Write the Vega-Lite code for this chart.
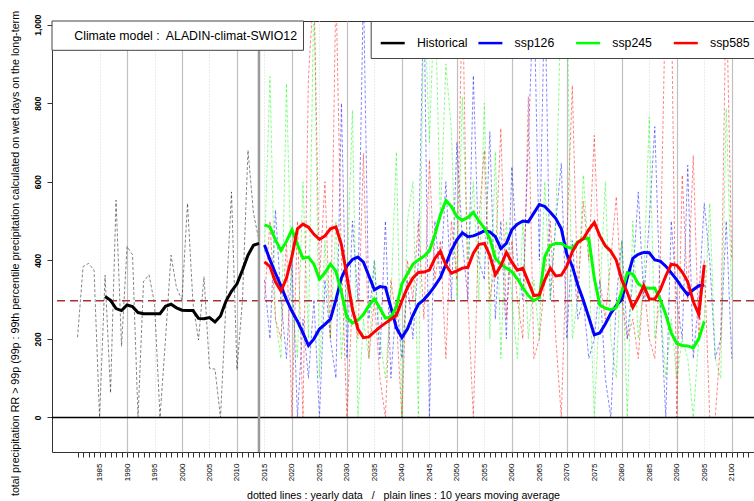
{
"$schema": "https://vega.github.io/schema/vega-lite/v6.json",
"width": 702, "height": 431,
"autosize": "none",
"padding": {"left": 52, "top": 21, "right": 0, "bottom": 49},
"background": "white",
"config": {"font": "Liberation Sans", "view": {"stroke": "#333", "strokeWidth": 1}},
"datasets": {
"yearly": [
{"year":1981,"value":204,"series":"Historical"},{"year":1982,"value":384,"series":"Historical"},{"year":1983,"value":392,"series":"Historical"},{"year":1984,"value":375,"series":"Historical"},{"year":1985,"value":0,"series":"Historical"},{"year":1986,"value":362,"series":"Historical"},{"year":1987,"value":62,"series":"Historical"},{"year":1988,"value":553,"series":"Historical"},{"year":1989,"value":181,"series":"Historical"},{"year":1990,"value":435,"series":"Historical"},{"year":1991,"value":414,"series":"Historical"},{"year":1992,"value":0,"series":"Historical"},{"year":1993,"value":346,"series":"Historical"},{"year":1994,"value":363,"series":"Historical"},{"year":1995,"value":290,"series":"Historical"},{"year":1996,"value":0,"series":"Historical"},{"year":1997,"value":200,"series":"Historical"},{"year":1998,"value":413,"series":"Historical"},{"year":1999,"value":330,"series":"Historical"},{"year":2000,"value":299,"series":"Historical"},{"year":2001,"value":545,"series":"Historical"},{"year":2002,"value":290,"series":"Historical"},{"year":2003,"value":197,"series":"Historical"},{"year":2004,"value":358,"series":"Historical"},{"year":2005,"value":125,"series":"Historical"},{"year":2006,"value":123,"series":"Historical"},{"year":2007,"value":0,"series":"Historical"},{"year":2008,"value":290,"series":"Historical"},{"year":2009,"value":574,"series":"Historical"},{"year":2010,"value":121,"series":"Historical"},{"year":2011,"value":300,"series":"Historical"},{"year":2012,"value":680,"series":"Historical"},{"year":2013,"value":520,"series":"Historical"},{"year":2014,"value":450,"series":"Historical"},
{"year":2015,"value":350,"series":"ssp126"},{"year":2016,"value":200,"series":"ssp126"},{"year":2017,"value":528,"series":"ssp126"},{"year":2018,"value":300,"series":"ssp126"},{"year":2019,"value":150,"series":"ssp126"},{"year":2020,"value":400,"series":"ssp126"},{"year":2021,"value":0,"series":"ssp126"},{"year":2022,"value":250,"series":"ssp126"},{"year":2023,"value":100,"series":"ssp126"},{"year":2024,"value":300,"series":"ssp126"},{"year":2025,"value":0,"series":"ssp126"},{"year":2026,"value":350,"series":"ssp126"},{"year":2027,"value":200,"series":"ssp126"},{"year":2028,"value":100,"series":"ssp126"},{"year":2029,"value":800,"series":"ssp126"},{"year":2030,"value":150,"series":"ssp126"},{"year":2031,"value":500,"series":"ssp126"},{"year":2032,"value":300,"series":"ssp126"},{"year":2033,"value":1100,"series":"ssp126"},{"year":2034,"value":250,"series":"ssp126"},{"year":2035,"value":400,"series":"ssp126"},{"year":2036,"value":150,"series":"ssp126"},{"year":2037,"value":500,"series":"ssp126"},{"year":2038,"value":100,"series":"ssp126"},{"year":2039,"value":300,"series":"ssp126"},{"year":2040,"value":150,"series":"ssp126"},{"year":2041,"value":350,"series":"ssp126"},{"year":2042,"value":200,"series":"ssp126"},{"year":2043,"value":400,"series":"ssp126"},{"year":2044,"value":1100,"series":"ssp126"},{"year":2045,"value":0,"series":"ssp126"},{"year":2046,"value":500,"series":"ssp126"},{"year":2047,"value":350,"series":"ssp126"},{"year":2048,"value":600,"series":"ssp126"},{"year":2049,"value":300,"series":"ssp126"},{"year":2050,"value":700,"series":"ssp126"},{"year":2051,"value":450,"series":"ssp126"},{"year":2052,"value":300,"series":"ssp126"},{"year":2053,"value":870,"series":"ssp126"},{"year":2054,"value":400,"series":"ssp126"},{"year":2055,"value":350,"series":"ssp126"},{"year":2056,"value":727,"series":"ssp126"},{"year":2057,"value":250,"series":"ssp126"},{"year":2058,"value":500,"series":"ssp126"},{"year":2059,"value":200,"series":"ssp126"},{"year":2060,"value":638,"series":"ssp126"},{"year":2061,"value":400,"series":"ssp126"},{"year":2062,"value":300,"series":"ssp126"},{"year":2063,"value":700,"series":"ssp126"},{"year":2064,"value":1100,"series":"ssp126"},{"year":2065,"value":400,"series":"ssp126"},{"year":2066,"value":1100,"series":"ssp126"},{"year":2067,"value":300,"series":"ssp126"},{"year":2068,"value":500,"series":"ssp126"},{"year":2069,"value":647,"series":"ssp126"},{"year":2070,"value":200,"series":"ssp126"},{"year":2071,"value":450,"series":"ssp126"},{"year":2072,"value":250,"series":"ssp126"},{"year":2073,"value":300,"series":"ssp126"},{"year":2074,"value":150,"series":"ssp126"},{"year":2075,"value":200,"series":"ssp126"},{"year":2076,"value":350,"series":"ssp126"},{"year":2077,"value":100,"series":"ssp126"},{"year":2078,"value":0,"series":"ssp126"},{"year":2079,"value":300,"series":"ssp126"},{"year":2080,"value":450,"series":"ssp126"},{"year":2081,"value":200,"series":"ssp126"},{"year":2082,"value":350,"series":"ssp126"},{"year":2083,"value":574,"series":"ssp126"},{"year":2084,"value":300,"series":"ssp126"},{"year":2085,"value":500,"series":"ssp126"},{"year":2086,"value":740,"series":"ssp126"},{"year":2087,"value":300,"series":"ssp126"},{"year":2088,"value":0,"series":"ssp126"},{"year":2089,"value":500,"series":"ssp126"},{"year":2090,"value":300,"series":"ssp126"},{"year":2091,"value":200,"series":"ssp126"},{"year":2092,"value":642,"series":"ssp126"},{"year":2093,"value":150,"series":"ssp126"},{"year":2094,"value":300,"series":"ssp126"},{"year":2095,"value":545,"series":"ssp126"},{"year":2096,"value":400,"series":"ssp126"},{"year":2097,"value":150,"series":"ssp126"},{"year":2098,"value":200,"series":"ssp126"},{"year":2099,"value":500,"series":"ssp126"},{"year":2100,"value":150,"series":"ssp126"},
{"year":2015,"value":420,"series":"ssp245"},{"year":2016,"value":868,"series":"ssp245"},{"year":2017,"value":250,"series":"ssp245"},{"year":2018,"value":150,"series":"ssp245"},{"year":2019,"value":850,"series":"ssp245"},{"year":2020,"value":300,"series":"ssp245"},{"year":2021,"value":150,"series":"ssp245"},{"year":2022,"value":600,"series":"ssp245"},{"year":2023,"value":200,"series":"ssp245"},{"year":2024,"value":1100,"series":"ssp245"},{"year":2025,"value":100,"series":"ssp245"},{"year":2026,"value":450,"series":"ssp245"},{"year":2027,"value":200,"series":"ssp245"},{"year":2028,"value":500,"series":"ssp245"},{"year":2029,"value":150,"series":"ssp245"},{"year":2030,"value":350,"series":"ssp245"},{"year":2031,"value":782,"series":"ssp245"},{"year":2032,"value":0,"series":"ssp245"},{"year":2033,"value":250,"series":"ssp245"},{"year":2034,"value":150,"series":"ssp245"},{"year":2035,"value":400,"series":"ssp245"},{"year":2036,"value":200,"series":"ssp245"},{"year":2037,"value":100,"series":"ssp245"},{"year":2038,"value":300,"series":"ssp245"},{"year":2039,"value":676,"series":"ssp245"},{"year":2040,"value":0,"series":"ssp245"},{"year":2041,"value":500,"series":"ssp245"},{"year":2042,"value":600,"series":"ssp245"},{"year":2043,"value":0,"series":"ssp245"},{"year":2044,"value":1100,"series":"ssp245"},{"year":2045,"value":700,"series":"ssp245"},{"year":2046,"value":1100,"series":"ssp245"},{"year":2047,"value":500,"series":"ssp245"},{"year":2048,"value":900,"series":"ssp245"},{"year":2049,"value":731,"series":"ssp245"},{"year":2050,"value":300,"series":"ssp245"},{"year":2051,"value":816,"series":"ssp245"},{"year":2052,"value":400,"series":"ssp245"},{"year":2053,"value":600,"series":"ssp245"},{"year":2054,"value":300,"series":"ssp245"},{"year":2055,"value":800,"series":"ssp245"},{"year":2056,"value":200,"series":"ssp245"},{"year":2057,"value":676,"series":"ssp245"},{"year":2058,"value":150,"series":"ssp245"},{"year":2059,"value":500,"series":"ssp245"},{"year":2060,"value":300,"series":"ssp245"},{"year":2061,"value":150,"series":"ssp245"},{"year":2062,"value":500,"series":"ssp245"},{"year":2063,"value":200,"series":"ssp245"},{"year":2064,"value":350,"series":"ssp245"},{"year":2065,"value":200,"series":"ssp245"},{"year":2066,"value":600,"series":"ssp245"},{"year":2067,"value":300,"series":"ssp245"},{"year":2068,"value":500,"series":"ssp245"},{"year":2069,"value":1100,"series":"ssp245"},{"year":2070,"value":1100,"series":"ssp245"},{"year":2071,"value":200,"series":"ssp245"},{"year":2072,"value":300,"series":"ssp245"},{"year":2073,"value":617,"series":"ssp245"},{"year":2074,"value":400,"series":"ssp245"},{"year":2075,"value":0,"series":"ssp245"},{"year":2076,"value":300,"series":"ssp245"},{"year":2077,"value":600,"series":"ssp245"},{"year":2078,"value":200,"series":"ssp245"},{"year":2079,"value":100,"series":"ssp245"},{"year":2080,"value":450,"series":"ssp245"},{"year":2081,"value":0,"series":"ssp245"},{"year":2082,"value":500,"series":"ssp245"},{"year":2083,"value":200,"series":"ssp245"},{"year":2084,"value":350,"series":"ssp245"},{"year":2085,"value":765,"series":"ssp245"},{"year":2086,"value":200,"series":"ssp245"},{"year":2087,"value":300,"series":"ssp245"},{"year":2088,"value":100,"series":"ssp245"},{"year":2089,"value":250,"series":"ssp245"},{"year":2090,"value":100,"series":"ssp245"},{"year":2091,"value":200,"series":"ssp245"},{"year":2092,"value":150,"series":"ssp245"},{"year":2093,"value":0,"series":"ssp245"},{"year":2094,"value":200,"series":"ssp245"},{"year":2095,"value":250,"series":"ssp245"},{"year":2096,"value":545,"series":"ssp245"},{"year":2097,"value":150,"series":"ssp245"},{"year":2098,"value":100,"series":"ssp245"},{"year":2099,"value":786,"series":"ssp245"},{"year":2100,"value":300,"series":"ssp245"},
{"year":2015,"value":300,"series":"ssp585"},{"year":2016,"value":500,"series":"ssp585"},{"year":2017,"value":250,"series":"ssp585"},{"year":2018,"value":200,"series":"ssp585"},{"year":2019,"value":450,"series":"ssp585"},{"year":2020,"value":0,"series":"ssp585"},{"year":2021,"value":500,"series":"ssp585"},{"year":2022,"value":0,"series":"ssp585"},{"year":2023,"value":866,"series":"ssp585"},{"year":2024,"value":1100,"series":"ssp585"},{"year":2025,"value":350,"series":"ssp585"},{"year":2026,"value":600,"series":"ssp585"},{"year":2027,"value":200,"series":"ssp585"},{"year":2028,"value":1100,"series":"ssp585"},{"year":2029,"value":400,"series":"ssp585"},{"year":2030,"value":0,"series":"ssp585"},{"year":2031,"value":300,"series":"ssp585"},{"year":2032,"value":200,"series":"ssp585"},{"year":2033,"value":672,"series":"ssp585"},{"year":2034,"value":150,"series":"ssp585"},{"year":2035,"value":300,"series":"ssp585"},{"year":2036,"value":100,"series":"ssp585"},{"year":2037,"value":0,"series":"ssp585"},{"year":2038,"value":350,"series":"ssp585"},{"year":2039,"value":250,"series":"ssp585"},{"year":2040,"value":0,"series":"ssp585"},{"year":2041,"value":400,"series":"ssp585"},{"year":2042,"value":300,"series":"ssp585"},{"year":2043,"value":500,"series":"ssp585"},{"year":2044,"value":250,"series":"ssp585"},{"year":2045,"value":655,"series":"ssp585"},{"year":2046,"value":350,"series":"ssp585"},{"year":2047,"value":450,"series":"ssp585"},{"year":2048,"value":150,"series":"ssp585"},{"year":2049,"value":500,"series":"ssp585"},{"year":2050,"value":350,"series":"ssp585"},{"year":2051,"value":1100,"series":"ssp585"},{"year":2052,"value":300,"series":"ssp585"},{"year":2053,"value":0,"series":"ssp585"},{"year":2054,"value":500,"series":"ssp585"},{"year":2055,"value":680,"series":"ssp585"},{"year":2056,"value":300,"series":"ssp585"},{"year":2057,"value":400,"series":"ssp585"},{"year":2058,"value":736,"series":"ssp585"},{"year":2059,"value":250,"series":"ssp585"},{"year":2060,"value":450,"series":"ssp585"},{"year":2061,"value":300,"series":"ssp585"},{"year":2062,"value":200,"series":"ssp585"},{"year":2063,"value":816,"series":"ssp585"},{"year":2064,"value":150,"series":"ssp585"},{"year":2065,"value":200,"series":"ssp585"},{"year":2066,"value":350,"series":"ssp585"},{"year":2067,"value":500,"series":"ssp585"},{"year":2068,"value":200,"series":"ssp585"},{"year":2069,"value":0,"series":"ssp585"},{"year":2070,"value":450,"series":"ssp585"},{"year":2071,"value":845,"series":"ssp585"},{"year":2072,"value":300,"series":"ssp585"},{"year":2073,"value":550,"series":"ssp585"},{"year":2074,"value":400,"series":"ssp585"},{"year":2075,"value":718,"series":"ssp585"},{"year":2076,"value":350,"series":"ssp585"},{"year":2077,"value":250,"series":"ssp585"},{"year":2078,"value":400,"series":"ssp585"},{"year":2079,"value":562,"series":"ssp585"},{"year":2080,"value":300,"series":"ssp585"},{"year":2081,"value":200,"series":"ssp585"},{"year":2082,"value":250,"series":"ssp585"},{"year":2083,"value":150,"series":"ssp585"},{"year":2084,"value":350,"series":"ssp585"},{"year":2085,"value":200,"series":"ssp585"},{"year":2086,"value":150,"series":"ssp585"},{"year":2087,"value":400,"series":"ssp585"},{"year":2088,"value":1100,"series":"ssp585"},{"year":2089,"value":1100,"series":"ssp585"},{"year":2090,"value":0,"series":"ssp585"},{"year":2091,"value":617,"series":"ssp585"},{"year":2092,"value":300,"series":"ssp585"},{"year":2093,"value":667,"series":"ssp585"},{"year":2094,"value":200,"series":"ssp585"},{"year":2095,"value":400,"series":"ssp585"},{"year":2096,"value":0,"series":"ssp585"},{"year":2097,"value":0,"series":"ssp585"},{"year":2098,"value":200,"series":"ssp585"},{"year":2099,"value":1100,"series":"ssp585"},{"year":2100,"value":400,"series":"ssp585"}
],
"ma": [
{"year":1986,"value":308,"series":"Historical"},{"year":1987,"value":298,"series":"Historical"},{"year":1988,"value":277,"series":"Historical"},{"year":1989,"value":272,"series":"Historical"},{"year":1990,"value":286,"series":"Historical"},{"year":1991,"value":282,"series":"Historical"},{"year":1992,"value":267,"series":"Historical"},{"year":1993,"value":264,"series":"Historical"},{"year":1994,"value":264,"series":"Historical"},{"year":1995,"value":264,"series":"Historical"},{"year":1996,"value":264,"series":"Historical"},{"year":1997,"value":283,"series":"Historical"},{"year":1998,"value":288,"series":"Historical"},{"year":1999,"value":279,"series":"Historical"},{"year":2000,"value":273,"series":"Historical"},{"year":2001,"value":272,"series":"Historical"},{"year":2002,"value":272,"series":"Historical"},{"year":2003,"value":252,"series":"Historical"},{"year":2004,"value":251,"series":"Historical"},{"year":2005,"value":254,"series":"Historical"},{"year":2006,"value":243,"series":"Historical"},{"year":2007,"value":258,"series":"Historical"},{"year":2008,"value":296,"series":"Historical"},{"year":2009,"value":321,"series":"Historical"},{"year":2010,"value":340,"series":"Historical"},{"year":2011,"value":375,"series":"Historical"},{"year":2012,"value":413,"series":"Historical"},{"year":2013,"value":438,"series":"Historical"},{"year":2014,"value":443,"series":"Historical"},
{"year":2015,"value":439,"series":"ssp126"},{"year":2016,"value":401,"series":"ssp126"},{"year":2017,"value":367,"series":"ssp126"},{"year":2018,"value":335,"series":"ssp126"},{"year":2019,"value":300,"series":"ssp126"},{"year":2020,"value":270,"series":"ssp126"},{"year":2021,"value":245,"series":"ssp126"},{"year":2022,"value":215,"series":"ssp126"},{"year":2023,"value":183,"series":"ssp126"},{"year":2024,"value":200,"series":"ssp126"},{"year":2025,"value":225,"series":"ssp126"},{"year":2026,"value":237,"series":"ssp126"},{"year":2027,"value":250,"series":"ssp126"},{"year":2028,"value":300,"series":"ssp126"},{"year":2029,"value":355,"series":"ssp126"},{"year":2030,"value":385,"series":"ssp126"},{"year":2031,"value":402,"series":"ssp126"},{"year":2032,"value":408,"series":"ssp126"},{"year":2033,"value":395,"series":"ssp126"},{"year":2034,"value":360,"series":"ssp126"},{"year":2035,"value":325,"series":"ssp126"},{"year":2036,"value":333,"series":"ssp126"},{"year":2037,"value":331,"series":"ssp126"},{"year":2038,"value":280,"series":"ssp126"},{"year":2039,"value":228,"series":"ssp126"},{"year":2040,"value":203,"series":"ssp126"},{"year":2041,"value":225,"series":"ssp126"},{"year":2042,"value":260,"series":"ssp126"},{"year":2043,"value":288,"series":"ssp126"},{"year":2044,"value":300,"series":"ssp126"},{"year":2045,"value":316,"series":"ssp126"},{"year":2046,"value":335,"series":"ssp126"},{"year":2047,"value":356,"series":"ssp126"},{"year":2048,"value":390,"series":"ssp126"},{"year":2049,"value":425,"series":"ssp126"},{"year":2050,"value":452,"series":"ssp126"},{"year":2051,"value":470,"series":"ssp126"},{"year":2052,"value":460,"series":"ssp126"},{"year":2053,"value":462,"series":"ssp126"},{"year":2054,"value":468,"series":"ssp126"},{"year":2055,"value":475,"series":"ssp126"},{"year":2056,"value":472,"series":"ssp126"},{"year":2057,"value":460,"series":"ssp126"},{"year":2058,"value":430,"series":"ssp126"},{"year":2059,"value":443,"series":"ssp126"},{"year":2060,"value":478,"series":"ssp126"},{"year":2061,"value":492,"series":"ssp126"},{"year":2062,"value":500,"series":"ssp126"},{"year":2063,"value":498,"series":"ssp126"},{"year":2064,"value":520,"series":"ssp126"},{"year":2065,"value":542,"series":"ssp126"},{"year":2066,"value":537,"series":"ssp126"},{"year":2067,"value":522,"series":"ssp126"},{"year":2068,"value":506,"series":"ssp126"},{"year":2069,"value":480,"series":"ssp126"},{"year":2070,"value":415,"series":"ssp126"},{"year":2071,"value":385,"series":"ssp126"},{"year":2072,"value":337,"series":"ssp126"},{"year":2073,"value":298,"series":"ssp126"},{"year":2074,"value":255,"series":"ssp126"},{"year":2075,"value":210,"series":"ssp126"},{"year":2076,"value":215,"series":"ssp126"},{"year":2077,"value":238,"series":"ssp126"},{"year":2078,"value":265,"series":"ssp126"},{"year":2079,"value":285,"series":"ssp126"},{"year":2080,"value":300,"series":"ssp126"},{"year":2081,"value":355,"series":"ssp126"},{"year":2082,"value":405,"series":"ssp126"},{"year":2083,"value":415,"series":"ssp126"},{"year":2084,"value":420,"series":"ssp126"},{"year":2085,"value":419,"series":"ssp126"},{"year":2086,"value":401,"series":"ssp126"},{"year":2087,"value":398,"series":"ssp126"},{"year":2088,"value":385,"series":"ssp126"},{"year":2089,"value":368,"series":"ssp126"},{"year":2090,"value":350,"series":"ssp126"},{"year":2091,"value":330,"series":"ssp126"},{"year":2092,"value":312,"series":"ssp126"},{"year":2093,"value":325,"series":"ssp126"},{"year":2094,"value":335,"series":"ssp126"},{"year":2095,"value":337,"series":"ssp126"},
{"year":2015,"value":490,"series":"ssp245"},{"year":2016,"value":485,"series":"ssp245"},{"year":2017,"value":452,"series":"ssp245"},{"year":2018,"value":425,"series":"ssp245"},{"year":2019,"value":448,"series":"ssp245"},{"year":2020,"value":478,"series":"ssp245"},{"year":2021,"value":440,"series":"ssp245"},{"year":2022,"value":405,"series":"ssp245"},{"year":2023,"value":408,"series":"ssp245"},{"year":2024,"value":390,"series":"ssp245"},{"year":2025,"value":352,"series":"ssp245"},{"year":2026,"value":368,"series":"ssp245"},{"year":2027,"value":390,"series":"ssp245"},{"year":2028,"value":372,"series":"ssp245"},{"year":2029,"value":318,"series":"ssp245"},{"year":2030,"value":255,"series":"ssp245"},{"year":2031,"value":240,"series":"ssp245"},{"year":2032,"value":248,"series":"ssp245"},{"year":2033,"value":262,"series":"ssp245"},{"year":2034,"value":285,"series":"ssp245"},{"year":2035,"value":302,"series":"ssp245"},{"year":2036,"value":278,"series":"ssp245"},{"year":2037,"value":253,"series":"ssp245"},{"year":2038,"value":255,"series":"ssp245"},{"year":2039,"value":282,"series":"ssp245"},{"year":2040,"value":340,"series":"ssp245"},{"year":2041,"value":365,"series":"ssp245"},{"year":2042,"value":390,"series":"ssp245"},{"year":2043,"value":401,"series":"ssp245"},{"year":2044,"value":410,"series":"ssp245"},{"year":2045,"value":424,"series":"ssp245"},{"year":2046,"value":465,"series":"ssp245"},{"year":2047,"value":515,"series":"ssp245"},{"year":2048,"value":552,"series":"ssp245"},{"year":2049,"value":537,"series":"ssp245"},{"year":2050,"value":511,"series":"ssp245"},{"year":2051,"value":502,"series":"ssp245"},{"year":2052,"value":509,"series":"ssp245"},{"year":2053,"value":522,"series":"ssp245"},{"year":2054,"value":500,"series":"ssp245"},{"year":2055,"value":482,"series":"ssp245"},{"year":2056,"value":455,"series":"ssp245"},{"year":2057,"value":405,"series":"ssp245"},{"year":2058,"value":390,"series":"ssp245"},{"year":2059,"value":380,"series":"ssp245"},{"year":2060,"value":371,"series":"ssp245"},{"year":2061,"value":353,"series":"ssp245"},{"year":2062,"value":330,"series":"ssp245"},{"year":2063,"value":310,"series":"ssp245"},{"year":2064,"value":297,"series":"ssp245"},{"year":2065,"value":305,"series":"ssp245"},{"year":2066,"value":410,"series":"ssp245"},{"year":2067,"value":438,"series":"ssp245"},{"year":2068,"value":443,"series":"ssp245"},{"year":2069,"value":443,"series":"ssp245"},{"year":2070,"value":434,"series":"ssp245"},{"year":2071,"value":430,"series":"ssp245"},{"year":2072,"value":447,"series":"ssp245"},{"year":2073,"value":455,"series":"ssp245"},{"year":2074,"value":456,"series":"ssp245"},{"year":2075,"value":354,"series":"ssp245"},{"year":2076,"value":286,"series":"ssp245"},{"year":2077,"value":278,"series":"ssp245"},{"year":2078,"value":274,"series":"ssp245"},{"year":2079,"value":280,"series":"ssp245"},{"year":2080,"value":320,"series":"ssp245"},{"year":2081,"value":368,"series":"ssp245"},{"year":2082,"value":365,"series":"ssp245"},{"year":2083,"value":340,"series":"ssp245"},{"year":2084,"value":330,"series":"ssp245"},{"year":2085,"value":329,"series":"ssp245"},{"year":2086,"value":329,"series":"ssp245"},{"year":2087,"value":300,"series":"ssp245"},{"year":2088,"value":262,"series":"ssp245"},{"year":2089,"value":215,"series":"ssp245"},{"year":2090,"value":188,"series":"ssp245"},{"year":2091,"value":183,"series":"ssp245"},{"year":2092,"value":182,"series":"ssp245"},{"year":2093,"value":177,"series":"ssp245"},{"year":2094,"value":200,"series":"ssp245"},{"year":2095,"value":244,"series":"ssp245"},
{"year":2015,"value":396,"series":"ssp585"},{"year":2016,"value":384,"series":"ssp585"},{"year":2017,"value":345,"series":"ssp585"},{"year":2018,"value":322,"series":"ssp585"},{"year":2019,"value":354,"series":"ssp585"},{"year":2020,"value":410,"series":"ssp585"},{"year":2021,"value":480,"series":"ssp585"},{"year":2022,"value":492,"series":"ssp585"},{"year":2023,"value":484,"series":"ssp585"},{"year":2024,"value":466,"series":"ssp585"},{"year":2025,"value":453,"series":"ssp585"},{"year":2026,"value":462,"series":"ssp585"},{"year":2027,"value":480,"series":"ssp585"},{"year":2028,"value":485,"series":"ssp585"},{"year":2029,"value":440,"series":"ssp585"},{"year":2030,"value":359,"series":"ssp585"},{"year":2031,"value":275,"series":"ssp585"},{"year":2032,"value":225,"series":"ssp585"},{"year":2033,"value":203,"series":"ssp585"},{"year":2034,"value":205,"series":"ssp585"},{"year":2035,"value":218,"series":"ssp585"},{"year":2036,"value":230,"series":"ssp585"},{"year":2037,"value":240,"series":"ssp585"},{"year":2038,"value":250,"series":"ssp585"},{"year":2039,"value":260,"series":"ssp585"},{"year":2040,"value":297,"series":"ssp585"},{"year":2041,"value":330,"series":"ssp585"},{"year":2042,"value":355,"series":"ssp585"},{"year":2043,"value":369,"series":"ssp585"},{"year":2044,"value":370,"series":"ssp585"},{"year":2045,"value":375,"series":"ssp585"},{"year":2046,"value":405,"series":"ssp585"},{"year":2047,"value":423,"series":"ssp585"},{"year":2048,"value":388,"series":"ssp585"},{"year":2049,"value":367,"series":"ssp585"},{"year":2050,"value":373,"series":"ssp585"},{"year":2051,"value":380,"series":"ssp585"},{"year":2052,"value":382,"series":"ssp585"},{"year":2053,"value":418,"series":"ssp585"},{"year":2054,"value":440,"series":"ssp585"},{"year":2055,"value":443,"series":"ssp585"},{"year":2056,"value":412,"series":"ssp585"},{"year":2057,"value":363,"series":"ssp585"},{"year":2058,"value":386,"series":"ssp585"},{"year":2059,"value":420,"series":"ssp585"},{"year":2060,"value":395,"series":"ssp585"},{"year":2061,"value":375,"series":"ssp585"},{"year":2062,"value":380,"series":"ssp585"},{"year":2063,"value":345,"series":"ssp585"},{"year":2064,"value":310,"series":"ssp585"},{"year":2065,"value":312,"series":"ssp585"},{"year":2066,"value":350,"series":"ssp585"},{"year":2067,"value":380,"series":"ssp585"},{"year":2068,"value":360,"series":"ssp585"},{"year":2069,"value":362,"series":"ssp585"},{"year":2070,"value":385,"series":"ssp585"},{"year":2071,"value":422,"series":"ssp585"},{"year":2072,"value":445,"series":"ssp585"},{"year":2073,"value":455,"series":"ssp585"},{"year":2074,"value":478,"series":"ssp585"},{"year":2075,"value":496,"series":"ssp585"},{"year":2076,"value":462,"series":"ssp585"},{"year":2077,"value":437,"series":"ssp585"},{"year":2078,"value":423,"series":"ssp585"},{"year":2079,"value":400,"series":"ssp585"},{"year":2080,"value":350,"series":"ssp585"},{"year":2081,"value":318,"series":"ssp585"},{"year":2082,"value":280,"series":"ssp585"},{"year":2083,"value":305,"series":"ssp585"},{"year":2084,"value":335,"series":"ssp585"},{"year":2085,"value":302,"series":"ssp585"},{"year":2086,"value":301,"series":"ssp585"},{"year":2087,"value":325,"series":"ssp585"},{"year":2088,"value":360,"series":"ssp585"},{"year":2089,"value":390,"series":"ssp585"},{"year":2090,"value":387,"series":"ssp585"},{"year":2091,"value":370,"series":"ssp585"},{"year":2092,"value":345,"series":"ssp585"},{"year":2093,"value":295,"series":"ssp585"},{"year":2094,"value":262,"series":"ssp585"},{"year":2095,"value":388,"series":"ssp585"}
]
},
"layer": [
{
"data": {"name": "yearly"},
"mark": {"type": "line", "strokeDash": [3, 2], "strokeWidth": 0.8, "opacity": 0.6, "clip": true},
"encoding": {
"x": {"field": "year", "type": "quantitative",
"scale": {"domain": [1976.35, 2104.05], "nice": false, "zero": false},
"axis": {
"title": "dotted lines : yearly data \u00a0 / \u00a0 plain lines : 10 years moving average",
"titleFontSize": 10.7, "titleFontWeight": "normal", "titleColor": "#000", "titleY": 46, "titleBaseline": "alphabetic",
"values": [1981,1982,1983,1984,1985,1986,1987,1988,1989,1990,1991,1992,1993,1994,1995,1996,1997,1998,1999,2000,2001,2002,2003,2004,2005,2006,2007,2008,2009,2010,2011,2012,2013,2014,2015,2016,2017,2018,2019,2020,2021,2022,2023,2024,2025,2026,2027,2028,2029,2030,2031,2032,2033,2034,2035,2036,2037,2038,2039,2040,2041,2042,2043,2044,2045,2046,2047,2048,2049,2050,2051,2052,2053,2054,2055,2056,2057,2058,2059,2060,2061,2062,2063,2064,2065,2066,2067,2068,2069,2070,2071,2072,2073,2074,2075,2076,2077,2078,2079,2080,2081,2082,2083,2084,2085,2086,2087,2088,2089,2090,2091,2092,2093,2094,2095,2096,2097,2098,2099,2100,2101,2102,2103],
"tickCount": 200,
"format": "d",
"labelExpr": "datum.value % 5 == 0 ? datum.label : ''",
"labelAngle": 270, "labelAlign": "right", "labelBaseline": "middle",
"labelFontSize": 8, "labelColor": "#000", "labelPadding": 6,
"labelOverlap": false, "labelBound": false, "labelFlush": false,
"tickSize": 5, "tickColor": "#333", "domain": false,
"grid": true,
"gridColor": {"condition": {"test": "datum.value % 10 == 0", "value": "#c0c0c0"}, "value": "#d8d8d8"},
"gridDash": {"condition": {"test": "datum.value % 10 == 0", "value": []}, "value": [1, 2]},
"gridWidth": {"condition": {"test": "datum.value % 10 == 0", "value": 1.2}, "value": 1},
"gridOpacity": {"condition": {"test": "datum.value % 5 == 0 && datum.value >= 1985 && datum.value <= 2100", "value": 1}, "value": 0}
}},
"y": {"field": "value", "type": "quantitative",
"scale": {"domain": [-88, 1009], "nice": false, "zero": false},
"axis": {
"title": "total precipitation RR > 99p (99p : 99th percentile precipitation calculated on wet days on the long-term",
"titleFontSize": 10.7, "titleFontWeight": "normal", "titleColor": "#000", "titleAngle": 270,
"titleX": -34, "titleY": 232, "titleAlign": "center", "titleBaseline": "alphabetic",
"values": [0, 200, 400, 600, 800, 1000],
"labelAngle": 270, "labelAlign": "center", "labelBaseline": "bottom",
"labelFontSize": 8.5, "labelFontWeight": "bold", "labelColor": "#000", "labelPadding": 5,
"tickSize": 5, "tickColor": "#333", "domain": false, "grid": false
}},
"stroke": {"field": "series", "type": "nominal",
"scale": {"domain": ["ssp126", "ssp245", "ssp585", "Historical"], "range": ["#0000FF", "#00FF00", "#FF0000", "#000000"]},
"legend": null}
}
},
{
"data": {"values": [{}]},
"mark": {"type": "rule", "color": "#000000", "strokeWidth": 1.5},
"encoding": {"y": {"datum": 0, "type": "quantitative", "scale": {"domain": [-88, 1009], "nice": false, "zero": false}}}
},
{
"data": {"values": [{}]},
"mark": {"type": "rule", "color": "#A83232", "strokeWidth": 1.6, "strokeDash": [8, 5]},
"encoding": {"y": {"datum": 297, "type": "quantitative", "scale": {"domain": [-88, 1009], "nice": false, "zero": false}}}
},
{
"data": {"values": [{}]},
"mark": {"type": "rule", "color": "#9a9a9a", "strokeWidth": 2.5},
"encoding": {"x": {"datum": 2014, "type": "quantitative", "scale": {"domain": [1976.35, 2104.05], "nice": false, "zero": false}}}
},
{
"data": {"name": "ma"},
"mark": {"type": "line", "strokeWidth": 3, "clip": true},
"encoding": {
"x": {"field": "year", "type": "quantitative", "scale": {"domain": [1976.35, 2104.05], "nice": false, "zero": false}},
"y": {"field": "value", "type": "quantitative", "scale": {"domain": [-88, 1009], "nice": false, "zero": false}},
"color": {"field": "series", "type": "nominal",
"scale": {"domain": ["Historical", "ssp126", "ssp245", "ssp585"], "range": ["#000000", "#0000FF", "#00FF00", "#FF0000"]},
"legend": {"title": null, "orient": "none", "legendX": 318.7, "legendY": 0, "direction": "horizontal", "columns": 4, "gridAlign": "all",
"columnPadding": 4.7, "padding": 8.5, "fillColor": "white", "strokeColor": "#444", "cornerRadius": 0,
"symbolType": "stroke", "symbolSize": 576, "symbolStrokeWidth": 2.5, "labelFontSize": 12.3, "labelOffset": 10.7, "labelColor": "#000", "labelLimit": 200}}
}
},
{
"data": {"values": [{}]},
"mark": {"type": "rect", "fill": "white", "stroke": "#444", "strokeWidth": 1},
"encoding": {
"x": {"datum": 1976.35, "type": "quantitative", "scale": {"domain": [1976.35, 2104.05], "nice": false, "zero": false}},
"x2": {"datum": 2022.1},
"y": {"datum": 934.4, "type": "quantitative", "scale": {"domain": [-88, 1009], "nice": false, "zero": false}},
"y2": {"datum": 1009}
}
},
{
"data": {"values": [{}]},
"mark": {"type": "text", "text": "Climate model :\u00a0 ALADIN-climat-SWIO12", "align": "left", "baseline": "middle", "fontSize": 12.3, "color": "#000"},
"encoding": {
"x": {"datum": 1980.4, "type": "quantitative", "scale": {"domain": [1976.35, 2104.05], "nice": false, "zero": false}},
"y": {"datum": 972, "type": "quantitative", "scale": {"domain": [-88, 1009], "nice": false, "zero": false}}
}
}
]
}
